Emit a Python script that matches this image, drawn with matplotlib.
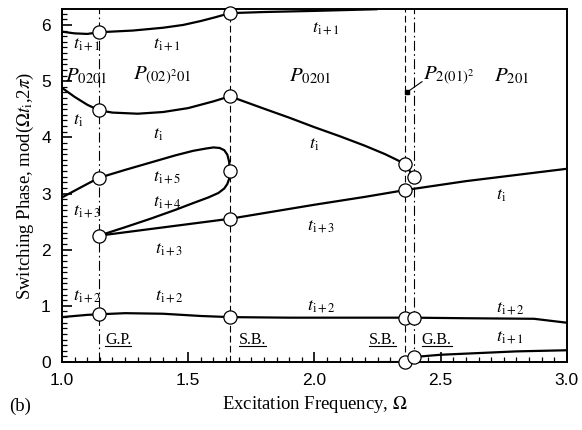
"""Switching phase versus excitation frequency, panel (b)."""

import numpy as np
import matplotlib
matplotlib.use('Agg')
import matplotlib.pyplot as plt
from matplotlib.ticker import MultipleLocator
from matplotlib.lines import Line2D

plt.rcParams['mathtext.fontset'] = 'stix'
plt.rcParams['font.family'] = ['Liberation Serif', 'DejaVu Serif']

# bifurcation frequencies
omega_gp = 1.147
omega_sb1 = 1.665
omega_sb2 = 2.358
omega_gb = 2.394

# branch t_{i+1} (top)
top_x = [1.00, 1.05, 1.10, 1.147, 1.28, 1.40, 1.48, 1.55, 1.61, 1.665, 1.80, 2.00, 2.25]
top_y = [5.88, 5.85, 5.84, 5.87, 5.90, 5.95, 6.00, 6.07, 6.14, 6.21, 6.23, 6.25, 6.28]

# branch t_i
ti_x = [1.00, 1.05, 1.10, 1.147, 1.20, 1.30, 1.40, 1.50, 1.60, 1.665,
        1.80, 1.90, 2.00, 2.10, 2.20, 2.28, 2.358, 2.394]
ti_y = [4.88, 4.72, 4.58, 4.48, 4.44, 4.42, 4.45, 4.52, 4.64, 4.73,
        4.51, 4.35, 4.18, 4.02, 3.85, 3.70, 3.53, 3.29]

# branch t_{i+3} -> t_{i+5} -> t_{i+4} (loop)
loop_x = [1.00, 1.05, 1.10, 1.147, 1.25, 1.35, 1.45, 1.52, 1.57, 1.60, 1.625, 1.643,
          1.655, 1.662, 1.665,
          1.662, 1.655, 1.643, 1.62, 1.58, 1.52, 1.45, 1.35, 1.25, 1.147]
loop_y = [2.93, 3.05, 3.17, 3.28, 3.42, 3.55, 3.68, 3.76, 3.80, 3.82, 3.81, 3.77,
          3.69, 3.57, 3.40,
          3.26, 3.17, 3.09, 3.01, 2.93, 2.83, 2.71, 2.55, 2.40, 2.25]

# branch t_{i+3} -> t_i (straight-ish line)
mid_x = [1.147, 1.665, 2.00, 2.20, 2.358, 2.60, 2.80, 3.00]
mid_y = [2.25, 2.55, 2.80, 2.94, 3.06, 3.22, 3.33, 3.44]

# branch t_{i+2}
low_x = [1.00, 1.05, 1.10, 1.147, 1.25, 1.40, 1.55, 1.665, 1.90, 2.10, 2.358, 2.394,
         2.60, 2.87, 3.00]
low_y = [0.80, 0.82, 0.84, 0.85, 0.87, 0.86, 0.82, 0.80, 0.79, 0.79, 0.79, 0.79,
         0.78, 0.77, 0.70]

# branch t_{i+1} (bottom, wrapped)
bot_x = [2.26, 2.358, 2.394, 2.50, 2.65, 2.80, 3.00]
bot_y = [0.00, 0.00, 0.09, 0.13, 0.16, 0.19, 0.21]

# bifurcation points (open circles)
circ_x = [1.147, 1.147, 1.147, 1.147, 1.147,
          1.665, 1.665, 1.665, 1.665, 1.665,
          2.358, 2.358, 2.358, 2.358,
          2.394, 2.394, 2.394]
circ_y = [5.87, 4.48, 3.28, 2.25, 0.85,
          6.21, 4.73, 3.40, 2.55, 0.80,
          3.53, 3.06, 0.79, 0.00,
          3.29, 0.79, 0.09]

# P_2(01)^2 orbit point
dot_x, dot_y = 2.366, 4.80

# branch labels: (x, y, sub)
t_labels = [
    (1.045, 5.66, 'i+1'), (1.36, 5.66, 'i+1'), (1.99, 5.93, 'i+1'),
    (1.045, 4.30, 'i'), (1.36, 4.05, 'i'), (1.98, 3.87, 'i'), (2.72, 2.96, 'i'),
    (1.36, 3.28, 'i+5'), (1.36, 2.84, 'i+4'),
    (1.045, 2.68, 'i+3'), (1.37, 2.00, 'i+3'), (1.97, 2.42, 'i+3'),
    (1.045, 1.16, 'i+2'), (1.37, 1.16, 'i+2'), (1.97, 0.98, 'i+2'), (2.72, 0.96, 'i+2'),
    (2.72, 0.44, 'i+1'),
]

region_labels = [
    (1.01, 5.09, r'$P_{\mathrm{0201}}$'),
    (1.28, 5.09, r'$P_{\mathrm{(02)}^{2}\mathrm{01}}$'),
    (1.90, 5.09, r'$P_{\mathrm{0201}}$'),
    (2.43, 5.09, r'$P_{\mathrm{2(01)}^{2}}$'),
    (2.71, 5.09, r'$P_{\mathrm{201}}$'),
]

bif_labels = [(1.17, 'G.P.'), (1.70, 'S.B.'), (2.215, 'S.B.'), (2.425, 'G.B.')]

fig = plt.figure(figsize=(5.82, 4.30), dpi=100)
ax = fig.add_axes([0.1065, 0.158, 0.8675, 0.821])

lw = 1.6
for xs, ys in [(top_x, top_y), (ti_x, ti_y), (loop_x, loop_y),
               (mid_x, mid_y), (low_x, low_y), (bot_x, bot_y)]:
    ax.plot(xs, ys, color='black', lw=lw, solid_capstyle='butt',
            solid_joinstyle='round', zorder=3)

ax.axvline(omega_gp, color='black', lw=0.8, ls=(0, (9, 3, 1.5, 3)), zorder=2)
ax.axvline(omega_gb, color='black', lw=0.8, ls=(0, (9, 3, 1.5, 3)), zorder=2)
ax.axvline(omega_sb1, color='black', lw=0.8, ls=(0, (6, 3)), zorder=2)
ax.axvline(omega_sb2, color='black', lw=0.8, ls=(0, (6, 3)), zorder=2)

ax.plot(circ_x, circ_y, 'o', ms=9.5, mfc='white', mec='black', mew=0.9,
        ls='none', zorder=5, clip_on=False)
ax.plot([dot_x], [dot_y], 's', ms=3.5, color='black', zorder=5)
ax.plot([dot_x, 2.426], [dot_y, 4.99], color='black', lw=0.8, zorder=5)

for x, y, sub in t_labels:
    ax.text(x, y, r'$t_{\mathrm{%s}}$' % sub, fontsize=13, ha='left', va='center')

for x, y, s in region_labels:
    ax.text(x, y, s, fontsize=15, ha='left', va='center')

bif_texts = []
for x, s in bif_labels:
    bif_texts.append(ax.text(x, 0.40, s, fontsize=11.5, ha='left', va='center'))

ax.set_xlim(1.0, 3.0)
ax.set_ylim(0, 2 * np.pi)
ax.xaxis.set_major_locator(MultipleLocator(0.5))
ax.xaxis.set_minor_locator(MultipleLocator(0.05))
ax.yaxis.set_major_locator(MultipleLocator(1))
ax.yaxis.set_minor_locator(MultipleLocator(0.1))
ax.xaxis.set_major_formatter(plt.FormatStrFormatter('%.1f'))
ax.tick_params(which='both', direction='in', top=False, right=False)
ax.tick_params(which='major', length=7, width=1.2, labelsize=12.5, pad=8)
ax.tick_params(which='minor', length=3.5, width=0.9)
for lab in ax.get_xticklabels() + ax.get_yticklabels():
    lab.set_fontfamily('Liberation Sans')
for sp in ax.spines.values():
    sp.set_linewidth(1.4)

ax.set_xlabel(r'Excitation Frequency, $\Omega$', fontsize=13.5, labelpad=4)
ax.set_ylabel(r'Switching Phase, mod($\Omega t_{\mathrm{i}}$,2$\pi$)', fontsize=13.5, labelpad=4)
fig.text(0.015, 0.045, '(b)', fontsize=13.5)

# underline the bifurcation labels
fig.canvas.draw()
renderer = fig.canvas.get_renderer()
inv = fig.transFigure.inverted()
for t in bif_texts:
    bb = t.get_window_extent(renderer)
    (x0, y0), (x1, _) = inv.transform([(bb.x0, bb.y0 + 2), (bb.x1, bb.y0 + 2)])
    fig.add_artist(Line2D([x0, x1], [y0, y0], transform=fig.transFigure,
                          color='black', lw=0.8))

fig.savefig('out.png', dpi=100)
